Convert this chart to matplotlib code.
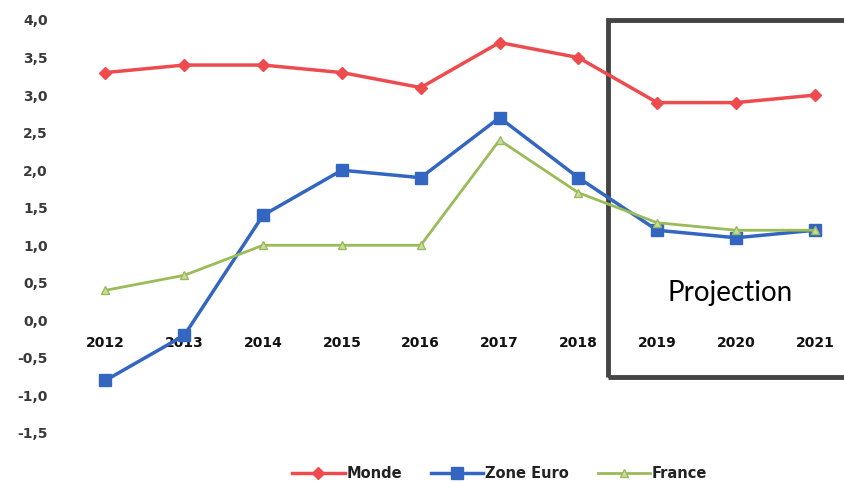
import matplotlib
matplotlib.use("Agg")
import matplotlib.pyplot as plt
from matplotlib.patches import Rectangle
from matplotlib.font_manager import FontProperties

years = ["2012", "2013", "2014", "2015", "2016", "2017", "2018", "2019", "2020", "2021"]
monde = [3.3, 3.4, 3.4, 3.3, 3.1, 3.7, 3.5, 2.9, 2.9, 3.0]
zone_euro = [-0.8, -0.2, 1.4, 2.0, 1.9, 2.7, 1.9, 1.2, 1.1, 1.2]
france = [0.4, 0.6, 1.0, 1.0, 1.0, 2.4, 1.7, 1.3, 1.2, 1.2]
yticks = [-1.5, -1.0, -0.5, 0.0, 0.5, 1.0, 1.5, 2.0, 2.5, 3.0, 3.5, 4.0]

plt.rcParams['font.family'] = ['DejaVu Sans']

fig = plt.figure(figsize=(8.44, 4.83), dpi=100)
ax = fig.add_axes([66/844, 1-433/483, 1-66/844, (433-20)/483])

x = list(range(len(years)))
red, blue, green = "#ee4b4f", "#3366c0", "#9bbb59"

ax.plot(x, monde, color=red, lw=2.5, marker='D', ms=6, label="Monde", zorder=3)
ax.plot(x, zone_euro, color=blue, lw=2.5, marker='s', ms=8, label="Zone Euro", zorder=3)
ax.plot(x, france, color=green, lw=2.0, marker='^', ms=6, mfc="#c9dba5", mec=green,
        label="France", zorder=3)

ax.set_xlim(-0.5, 9.37)
ax.set_ylim(-1.5, 4.0)
ax.set_yticks(yticks)
ax.set_yticklabels([f"{v:.1f}".replace(".", ",") for v in yticks])
ax.set_xticks(x)
ax.set_xticklabels(years)
ax.spines['bottom'].set_position(('data', 0))
for s in ax.spines.values():
    s.set_color('none')
ax.tick_params(axis='y', length=0, pad=13)
ax.tick_params(axis='x', length=0, pad=11)

yfp = FontProperties(family='DejaVu Sans', weight='bold', size=10)
xfp = FontProperties(family='DejaVu Sans', weight='bold', size=10)
for t in ax.get_yticklabels():
    t.set_fontproperties(yfp)
    t.set_color("#3a3a3a")
for t in ax.get_xticklabels():
    t.set_fontproperties(xfp)
    t.set_color("#111111")

# Projection box
rect = Rectangle((6.375, -0.75), 3.3, 4.75, fill=False, ec="#444444", lw=3.5,
                 clip_on=False, zorder=2)
ax.add_patch(rect)
ax.text(7.92, 0.37, "Projection", ha='center', va='center', color="#000000",
        fontproperties=FontProperties(family='Lato', size=20))

lfp = FontProperties(family='DejaVu Sans', weight='bold', size=10.5)
fig.legend(loc='lower center', bbox_to_anchor=(0.592, -0.024), ncol=3, frameon=False,
           handlelength=3.6, columnspacing=2.0, handletextpad=0.1, prop=lfp,
           labelcolor="#222222")

fig.savefig("out.png", dpi=100)
